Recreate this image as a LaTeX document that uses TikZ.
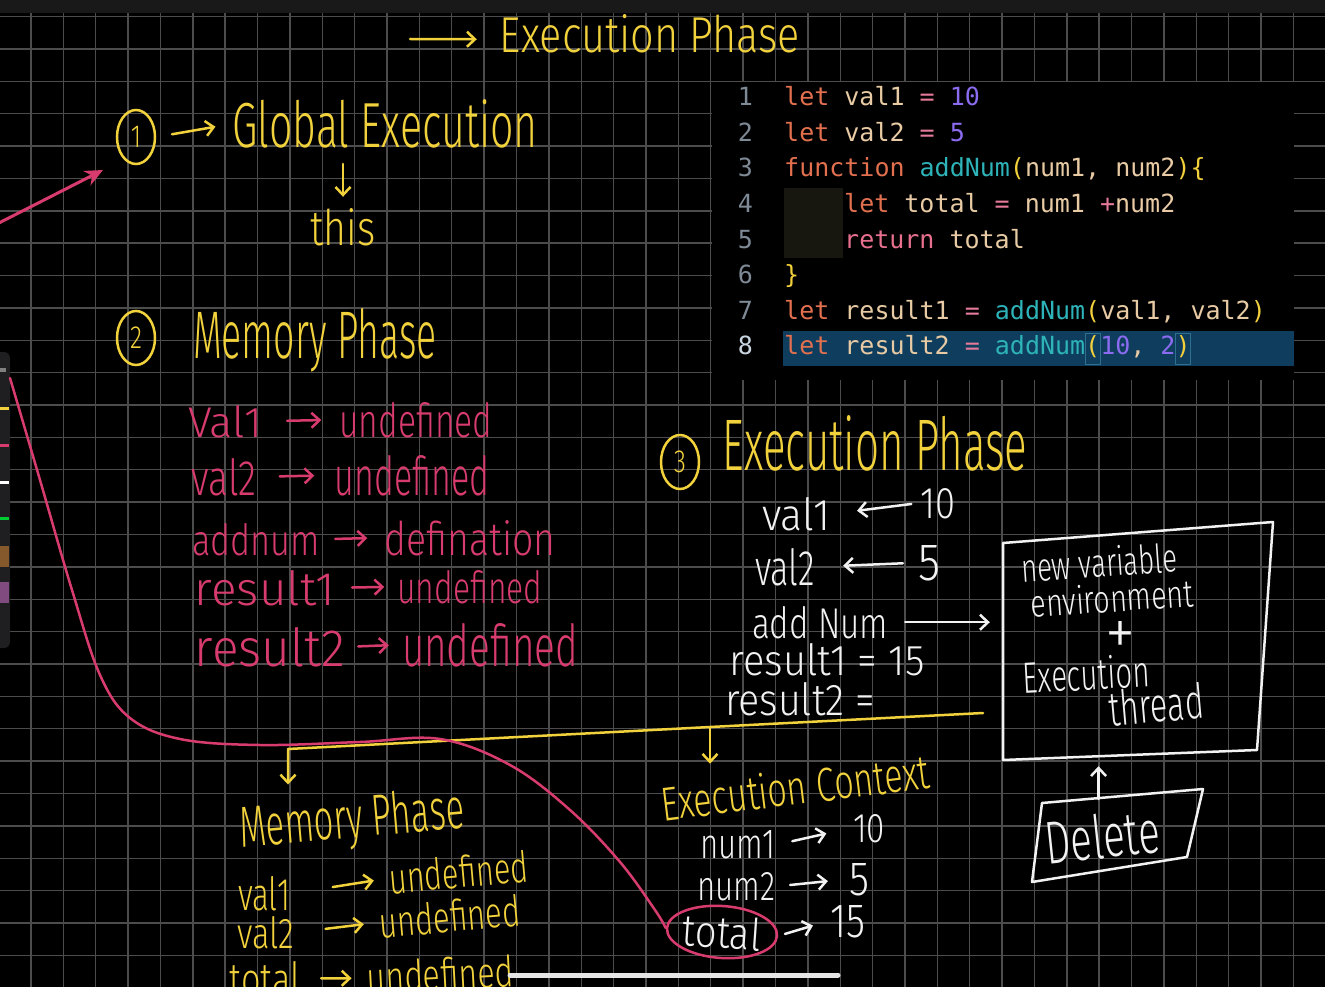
\documentclass[tikz,border=0pt]{standalone}
\usepackage{fontspec}
\usetikzlibrary{arrows.meta,shapes.geometric}
\newfontfamily\hand[FakeStretch=0.78,UprightFont=* Light]{Fira Sans}
\newfontfamily\codefont{DejaVu Sans Mono}
\definecolor{hy}{HTML}{F2D23C}
\definecolor{hp}{HTML}{D83C6E}
\definecolor{hw}{HTML}{F2F2F2}
\definecolor{gridc}{HTML}{4C4C4C}
\definecolor{ckw}{HTML}{E2704F}
\definecolor{cva}{HTML}{E8CBA4}
\definecolor{ceq}{HTML}{E57A9A}
\definecolor{cnu}{HTML}{8B6CF0}
\definecolor{cfn}{HTML}{2DB3B8}
\definecolor{cbr}{HTML}{F2D03B}
\definecolor{cre}{HTML}{E8708F}
\definecolor{cln}{HTML}{7E8A96}
\definecolor{cln8}{HTML}{C8D4E0}
\definecolor{hlc}{HTML}{0F3D5E}
\definecolor{hlb}{HTML}{2F7090}
\definecolor{blk}{HTML}{17160F}
\definecolor{palbg}{HTML}{1F1F22}
\newcommand{\hwd}[3]{\resizebox{#1pt}{#2pt}{\hand\fontsize{40}{40}\selectfont #3}}
\newcommand{\cKw}[1]{\textcolor{ckw}{#1}}
\newcommand{\cVa}[1]{\textcolor{cva}{#1}}
\newcommand{\cEq}[1]{\textcolor{ceq}{#1}}
\newcommand{\cNu}[1]{\textcolor{cnu}{#1}}
\newcommand{\cFn}[1]{\textcolor{cfn}{#1}}
\newcommand{\cBr}[1]{\textcolor{cbr}{#1}}
\newcommand{\cRe}[1]{\textcolor{cre}{#1}}
\begin{document}
\begin{tikzpicture}[x=1pt,y=-1pt,
  htx/.style={inner sep=3pt, anchor=base},
  ytxt/.style={htx, text=hy},
  ptxt/.style={htx, text=hp},
  wtxt/.style={htx, text=hw},
  yarr/.style={draw=hy, line width=2.5pt, line cap=round, line join=round, -{Straight Barb[length=8pt,width=15pt]}},
  parr/.style={yarr, draw=hp},
  warr/.style={yarr, draw=hw},
  cnum/.style={ellipse, draw=hy, line width=2.5pt, minimum width=38pt, minimum height=54pt, inner sep=0pt, text=hy, font=\hand\fontsize{32}{32}\selectfont},
  codeln/.style={anchor=base west, inner sep=0pt, font=\codefont\fontsize{25}{25}\selectfont},
  lnum/.style={anchor=base east, inner sep=0pt, font=\codefont\fontsize{25}{25}\selectfont, text=cln},
  boxline/.style={draw=hw, line width=2.5pt, line join=round},
]
\useasboundingbox (0,0) rectangle (1325,987);
\clip (0,0) rectangle (1325,987);
\fill[black] (0,0) rectangle (1325,987);
% grid
\foreach \i in {0,...,41} \draw[gridc, line width=1.4pt] ({-1.4+32.37*\i},0) -- ++(0,987);
\foreach \j in {0,...,30} \draw[gridc, line width=1.4pt] (0,{16.6+32.37*\j}) -- ++(1325,0);
% top strip
\fill[black!90!white] (0,0) rectangle (1325,13);
% left palette
\fill[palbg, rounded corners=6pt] (-10,352) rectangle (10,648);
\fill[gray] (0,368) rectangle (6,372);
\fill[hy] (0,407) rectangle (9,409.5);
\fill[hp] (0,444) rectangle (9,446.5);
\fill[white] (0,481) rectangle (9,483.5);
\fill[green!60!teal] (0,517) rectangle (9,519.5);
\fill[brown!70!black] (0,546) rectangle (9,567);
\fill[violet!40!gray] (0,582) rectangle (9,603);

% code panel
\fill[black] (712,82) rectangle (1294,380);
\fill[hlc] (783,331) rectangle (1294,366);
\fill[blk] (784,188) rectangle (843,258);
\draw[hlb, line width=1pt] (1085,333) rectangle (1100,364);
\draw[hlb, line width=1pt] (1175.5,333) rectangle (1190.5,364);
\node[lnum] (ln1) at (753,106) {1};
\node[lnum] (ln2) at (753,141.5) {2};
\node[lnum] (ln3) at (753,177) {3};
\node[lnum] (ln4) at (753,212.5) {4};
\node[lnum] (ln5) at (753,248) {5};
\node[lnum] (ln6) at (753,283.5) {6};
\node[lnum] (ln7) at (753,319) {7};
\node[lnum, text=cln8] (ln8) at (753,354.5) {8};
\node[codeln] (c1) at (784,106) {\cKw{let} \cVa{val1} \cEq{=} \cNu{10}};
\node[codeln] (c2) at (784,141.5) {\cKw{let} \cVa{val2} \cEq{=} \cNu{5}};
\node[codeln] (c3) at (784,177) {\cKw{function} \cFn{addNum}\cBr{(}\cVa{num1, num2}\cBr{)\{}};
\node[codeln] (c4) at (844,212.5) {\cKw{let} \cVa{total} \cEq{=} \cVa{num1} \cEq{+}\cVa{num2}};
\node[codeln] (c5) at (844,248) {\cRe{return} \cVa{total}};
\node[codeln] (c6) at (784,283.5) {\cBr{\}}};
\node[codeln] (c7) at (784,319) {\cKw{let} \cVa{result1} \cEq{=} \cFn{addNum}\cBr{(}\cVa{val1, val2}\cBr{)}};
\node[codeln] (c8) at (784,354.5) {\cKw{let} \cVa{result2} \cEq{=} \cFn{addNum}\cBr{(}\cNu{10}\cVa{,} \cNu{2}\cBr{)}};

% top title
\node[ytxt] (topEP) at (650,53) {\hwd{300}{38}{Execution Phase}};
\coordinate (ta) at (410,39);
\draw[yarr] (ta) -- ([xshift=-20pt,yshift=-5pt]topEP.west);

% section 1
\node[cnum] (circ1) at (136,137) {1};
\node[ytxt] (GE) at (385,148) {\hwd{305}{48}{Global Execution}};
\draw[yarr, shorten <=16pt, shorten >=14pt] (circ1.east) -- (GE.west);
\node[ytxt] (this) at (343,245) {\hwd{65}{37}{this}};
\draw[yarr, shorten <=12pt, shorten >=8pt] (this.north |- GE.south) -- (this.north);

% pink arrow into circle 1
\coordinate (pa0) at (-5,225);
\coordinate (pa1) at (103,170);
\draw[hp, line width=3pt, -{Stealth[length=18pt,width=16pt]}] (pa0) -- (pa1);

% section 2
\node[cnum] (circ2) at (136,338) {2};
\node[ytxt] (MP) at (315,358) {\hwd{244}{50}{Memory Phase}};
\node[ptxt] (r1a) at (225,437) {\hwd{74}{32}{Val1}};
\node[ptxt] (r1b) at (416,437) {\hwd{153}{35}{undefined}};
\draw[parr, shorten <=22pt, shorten >=15pt] (r1a.east) -- (r1b.west);
\node[ptxt] (r2a) at (224,495) {\hwd{65}{37}{val2}};
\node[ptxt] (r2b) at (412,495) {\hwd{155}{40}{undefined}};
\draw[parr, shorten <=20pt, shorten >=17pt] (r2a.east) -- (r2b.west);
\node[ptxt] (r3a) at (256,555) {\hwd{128}{32}{addnum}};
\node[ptxt] (r3b) at (470,555) {\hwd{171}{35}{defination}};
\draw[parr, shorten <=12pt, shorten >=14pt] (r3a.east) -- (r3b.west);
\node[ptxt] (r4a) at (265,605) {\hwd{140}{35}{result1}};
\node[ptxt] (r4b) at (470,603) {\hwd{145}{33}{undefined}};
\draw[parr, shorten <=14pt, shorten >=10pt] (r4a.east) -- (r4b.west);
\node[ptxt] (r5a) at (270,666) {\hwd{150}{39}{result2}};
\node[ptxt] (r5b) at (490,666) {\hwd{176}{43}{undefined}};
\draw[parr, shorten <=10pt, shorten >=10pt] (r5a.east) -- (r5b.west);

% section 3
\node[cnum] (circ3) at (680,462) {3};
\node[ytxt] (EP3) at (875,470) {\hwd{305}{55}{Execution Phase}};
\node[wtxt] (v1) at (796,530) {\hwd{68}{33}{val1}};
\node[wtxt] (ten) at (938,518) {\hwd{35}{30}{10}};
\draw[warr, shorten <=6pt, shorten >=24pt] (ten.west) -- (v1.east);
\node[wtxt] (v2) at (785,585) {\hwd{60}{37}{val2}};
\node[wtxt] (five) at (929,580) {\hwd{22}{35}{5}};
\draw[warr, shorten <=12pt, shorten >=25pt] (five.west) -- (v2.east);
\node[wtxt] (an) at (820,638) {\hwd{136}{32}{add Num}};
\node[wtxt] (res1) at (827,675) {\hwd{195}{32}{result1 = 15}};
\node[wtxt] (res2) at (800,715) {\hwd{150}{33}{result2 =}};

% new environment box
\node[inner sep=0pt, minimum width=262pt, minimum height=218pt] (box) at (1133,645) {};
\draw[boxline] (1003,543) -- (1273,522) -- (1257,750) -- (1003,760) -- cycle;
\node[wtxt, rotate=4] (bt1) at (1100,577) {\hwd{156}{30}{new variable}};
\node[wtxt, rotate=4] (bt2) at (1113,612) {\hwd{163}{29}{environment}};
\node[inner sep=0pt, text=hw] (bt3) at (1120,638) {\hwd{30}{34}{+}};
\node[wtxt, rotate=3] (bt4) at (1087,690) {\hwd{127}{33}{Execution}};
\node[wtxt, rotate=5] (bt5) at (1158,722) {\hwd{95}{36}{thread}};
\draw[warr, shorten <=14pt, shorten >=12pt] (an.east) -- (an.east -| box.west);

% delete box
\draw[boxline] (1042,803) -- (1203,789) -- (1187,857) -- (1032,882) -- cycle;
\node[inner sep=0pt, minimum width=150pt, minimum height=66pt, rotate=6, text=hw] (del) at (1102,836) {\hwd{115}{45}{Delete}};
\draw[warr, shorten <=4pt, shorten >=12pt] (del.north) -- (del.north |- box.south);

% lower section
\node[ytxt, anchor=center, rotate=7] (ectx) at (795,787) {\hwd{270}{36}{Execution Context}};
\node[ytxt, anchor=center, rotate=5] (mp2) at (352,822) {\hwd{225}{43}{Memory Phase}};
\coordinate (yr) at (983,713);
\coordinate (ym) at (710,727);
\coordinate (yl) at (288,749);
\draw[yarr, shorten >=7pt] (yr) -- (ym) -- (yl) -- (yl |- mp2.north);
\draw[yarr, shorten >=2pt] (ym) -- (ym |- ectx.north);

\node[wtxt] (n1) at (738,858) {\hwd{75}{28}{num1}};
\node[wtxt] (n1v) at (869,842) {\hwd{32}{28}{10}};
\draw[warr, shorten <=14pt, shorten >=24pt] (n1.east) -- (n1v.west);
\node[wtxt] (n2) at (736,900) {\hwd{78}{28}{num2}};
\node[wtxt] (n2v) at (859,895) {\hwd{20}{32}{5}};
\draw[warr, shorten <=12pt, shorten >=18pt] (n2.east) -- (n2v.west);
\node[ellipse, draw=hp, line width=2.5pt, minimum width=92pt, minimum height=52pt, inner sep=0pt, text=hw, rotate=-4] (tot) at (722,932) {\hwd{78}{33}{total}};
\node[wtxt] (tv) at (848,937) {\hwd{35}{32}{15}};
\draw[warr, shorten <=7pt, shorten >=15pt] (tot.east) -- (tv.west);

\node[ytxt] (l1a) at (264,910) {\hwd{52}{34}{val1}};
\node[ytxt, rotate=5] (l1b) at (460,888) {\hwd{140}{32}{undefined}};
\draw[yarr, shorten <=40pt, shorten >=12pt] (l1a.east) -- (l1b.west);
\node[ytxt] (l2a) at (266,948) {\hwd{57}{32}{val2}};
\node[ytxt, rotate=5] (l2b) at (451,932) {\hwd{142}{32}{undefined}};
\draw[yarr, shorten <=28pt, shorten >=12pt] (l2a.east) -- (l2b.west);
\node[ytxt] (l3a) at (265,995) {\hwd{70}{34}{total}};
\node[ytxt, rotate=3] (l3b) at (441,990) {\hwd{147}{32}{undefined}};
\draw[yarr, shorten <=18pt, shorten >=12pt] (l3a.east) -- (l3b.west);

% pink curve
\coordinate (pc0) at (10,378);
\draw[hp, line width=2.5pt, line cap=round] plot[smooth, tension=0.6] coordinates {(pc0) (40,480) (72,590) (100,675) (130,718) (180,739) (260,745) (360,742) (440,739) (510,765) (570,810) (620,862) (655,910) (tot.west)};

% home indicator
\draw[line width=5pt, line cap=round, color=white!90!black] (510,975) -- (838,975);
\end{tikzpicture}
\end{document}
